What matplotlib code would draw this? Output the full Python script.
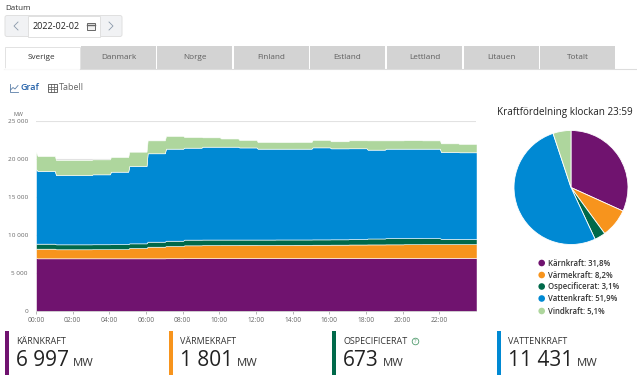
import matplotlib
matplotlib.use("Agg")
import matplotlib.pyplot as plt
import numpy as np
from matplotlib.patches import Circle, FancyBboxPatch, Rectangle

plt.rcParams["font.family"] = ["Open Sans", "DejaVu Sans"]

WIDTH, HEIGHT = 637, 375

# one value for 00:00 itself, then one value per hour
START_VALUES = [6960, 1240, 660, 9820, 2280]
NUCLEAR = [6930, 6930, 6930, 6930, 6930, 6930, 6930, 6940, 6950, 6950, 6950, 6960,
           6960, 6960, 6960, 6960, 6970, 6970, 6970, 6980, 6980, 6990, 6990, 6997]
HEAT = [1270, 1190, 1190, 1200, 1210, 1360, 1530, 1610, 1690, 1720, 1730, 1730,
        1720, 1730, 1740, 1760, 1760, 1780, 1790, 1790, 1810, 1810, 1810, 1801]
OTHER = [660, 650, 650, 650, 650, 610, 660, 700, 750, 730, 720, 710,
         720, 720, 710, 700, 700, 710, 780, 820, 800, 780, 700, 673]
HYDRO = [9560, 9120, 9110, 9200, 9540, 10180, 11630, 12110, 12100, 12220, 12220, 12120,
         11960, 11950, 11950, 12110, 11970, 11950, 11690, 11770, 11770, 11780, 11420, 11410]
WIND = [1970, 1980, 1990, 1970, 1930, 1880, 1700, 1670, 1400, 1230, 1080, 980,
        880, 870, 880, 970, 930, 1050, 1220, 1090, 1110, 1090, 1140, 1100]

SERIES_NAMES = ["Kärnkraft", "Värmekraft", "Ospecificerat", "Vattenkraft", "Vindkraft"]
COLORS = ["#70136f", "#f7941d", "#00694a", "#0089d3", "#aed69d"]
PIE_SHARES = [31.8, 8.2, 3.1, 51.9, 5.1]
PIE_LABELS = ["31,8%", "8,2%", "3,1%", "51,9%", "5,1%"]

Y_TICKS = [0, 5000, 10000, 15000, 20000, 25000]
Y_LABELS = ["0", "5 000", "10 000", "15 000", "20 000", "25 000"]
X_TICKS = list(range(0, 24, 2))
X_LABELS = [f"{h:02d}:00" for h in X_TICKS]

TABS = ["Sverige", "Danmark", "Norge", "Finland", "Estland", "Lettland", "Litauen", "Totalt"]
TAB_LEFTS = [4, 81, 157, 234, 310, 387, 464, 540]

CARD_TITLES = ["KÄRNKRAFT", "VÄRMEKRAFT", "OSPECIFICERAT", "VATTENKRAFT"]
CARD_VALUES = ["6 997", "1 801", "673", "11 431"]
CARD_LEFTS = [5, 169, 332, 497]
CARD_UNIT_X = [72.5, 236.5, 383, 576.5]


def px_axes(fig, left, top, right, bottom, **kwargs):
    return fig.add_axes(
        [left / WIDTH, 1 - bottom / HEIGHT, (right - left) / WIDTH, (bottom - top) / HEIGHT],
        **kwargs,
    )


def step_series(start, values):
    # hourly values with a short ramp just after each full hour
    hours = np.arange(len(values))
    xs = np.concatenate([[0], np.column_stack([hours + 0.09, hours + 1.03]).ravel()])
    ys = np.concatenate([[start], np.repeat(values, 2)])
    return xs, ys


def draw_area(fig):
    ax = px_axes(fig, 36, 121, 476, 311)
    stacks = []
    for start, values in zip(START_VALUES, [NUCLEAR, HEAT, OTHER, HYDRO, WIND]):
        xs, ys = step_series(start, values)
        stacks.append(ys)
    ax.stackplot(xs, stacks, colors=COLORS, edgecolor="#ffffff", linewidth=0.4, zorder=2)
    ax.set_xlim(0, 24)
    ax.set_ylim(0, 25000)
    ax.set_yticks(Y_TICKS, Y_LABELS)
    ax.set_xticks(X_TICKS, X_LABELS)
    ax.tick_params(axis="y", length=0, labelsize=4.6, labelcolor="#666666", pad=5.8)
    ax.tick_params(axis="x", length=2, width=0.5, color="#999999", labelsize=4.8,
                   labelcolor="#666666", pad=2)
    ax.grid(axis="y", color="#e2e2e2", linewidth=0.8, zorder=0)
    ax.set_axisbelow(True)
    for name, spine in ax.spines.items():
        spine.set_visible(name == "bottom")
    ax.spines["bottom"].set_color("#c8c8c8")
    ax.spines["bottom"].set_linewidth(0.5)
    ax.patch.set_alpha(0)


def draw_pie(fig):
    ax = px_axes(fig, 514, 130.5, 628, 244.5)
    ax.pie(PIE_SHARES, colors=COLORS, startangle=90, counterclock=False, radius=1,
           wedgeprops={"edgecolor": "#ffffff", "linewidth": 0.6})
    ax.set_xlim(-1.0, 1.0)
    ax.set_ylim(-1.0, 1.0)


def draw_ui(fig):
    ui = px_axes(fig, 0, 0, WIDTH, HEIGHT, zorder=5)
    ui.set_xlim(0, WIDTH)
    ui.set_ylim(HEIGHT, 0)
    ui.axis("off")
    ui.patch.set_alpha(0)

    # date picker
    ui.text(5, 8, "Datum", fontsize=5.8, color="#333333", va="center")
    ui.add_patch(FancyBboxPatch((5, 15.5), 117, 21, boxstyle="round,pad=0,rounding_size=2",
                                fc="#f1f2f4", ec="#e0e0e0", lw=0.7))
    ui.add_patch(Rectangle((27.5, 15.5), 72, 21, fc="#ffffff", ec="#e0e0e0", lw=0.7))
    ui.plot([18, 14, 18], [22, 26, 30], color="#8a98aa", lw=0.6)
    ui.plot([109, 113, 109], [22, 26, 30], color="#8a98aa", lw=0.6)
    ui.text(32.5, 26.3, "2022-02-02", fontsize=6.5, color="#222222", va="center")
    ui.add_patch(Rectangle((87, 22.5), 7.5, 7.5, fc="#f1f1f1", ec="#666666", lw=0.7))
    ui.plot([87, 94.5], [24.5, 24.5], color="#666666", lw=1)

    # tabs
    ui.plot([4, WIDTH], [68.5, 68.5], color="#dddddd", lw=0.8)
    for i, (name, left) in enumerate(zip(TABS, TAB_LEFTS)):
        if i == 0:
            ui.add_patch(Rectangle((left + 0.5, 46.5), 75, 22, fc="#ffffff", ec="#e2e2e2", lw=0.7))
            ui.plot([left + 1, left + 75], [68.6, 68.6], color="#ffffff", lw=1.2)
            color = "#333333"
        else:
            ui.add_patch(Rectangle((left, 46), 75, 22.5, fc="#d3d3d3", ec="none"))
            color = "#5f5f5f"
        ui.text(left + 37.5, 57.5, name, fontsize=5.9, color=color, ha="center", va="center")

    # view switch
    ui.plot([9.5, 9.5, 18], [84, 91.5, 91.5], color="#5b7fa8", lw=0.6)
    ui.plot([10.5, 13, 15, 18], [90, 87.5, 89, 85.5], color="#5b7fa8", lw=0.6)
    ui.text(20.5, 87.7, "Graf", fontsize=6.5, color="#1f5ea8", va="center", fontweight="semibold")
    ui.add_patch(Rectangle((48, 84), 9, 7.5, fc="#ffffff", ec="#555555", lw=0.6))
    for y in (86.5, 89):
        ui.plot([48, 57], [y, y], color="#555555", lw=0.5)
    for x in (51, 54):
        ui.plot([x, x], [84, 91.5], color="#555555", lw=0.5)
    ui.text(59, 87.7, "Tabell", fontsize=6.5, color="#666666", va="center")

    ui.text(13, 114, "MW", fontsize=3.9, color="#666666", va="center")

    # pie title and legend
    ui.text(564.5, 112.5, "Kraftfördelning klockan 23:59", fontsize=7.1, color="#222222",
            ha="center", va="center")
    for y, name, share, color in zip([263, 275, 286.5, 298.5, 311], SERIES_NAMES, PIE_LABELS, COLORS):
        ui.add_patch(Circle((541.7, y), 3.3, fc=color, ec="none"))
        ui.text(547.5, y + 0.3, f"{name}: {share}", fontsize=5.6, color="#333333", va="center",
                fontweight="semibold")

    # value cards
    for i, left in enumerate(CARD_LEFTS):
        ui.add_patch(Rectangle((left, 331), 3.5, 44, fc=COLORS[i], ec="none"))
        ui.text(left + 11, 341.8, CARD_TITLES[i], fontsize=6.5, color="#333333", va="center")
        ui.text(left + 11, 360.5, CARD_VALUES[i], fontsize=15, color="#222222", va="center")
        ui.text(CARD_UNIT_X[i], 363.5, "MW", fontsize=8.2, color="#333333", va="center")
    ui.add_patch(Circle((415.5, 341.5), 3.3, fc="#ffffff", ec="#4f9a6d", lw=0.6))
    ui.text(415.5, 341.7, "?", fontsize=4.2, color="#4f9a6d", ha="center", va="center")


def main():
    fig = plt.figure(figsize=(WIDTH / 100, HEIGHT / 100), dpi=100, facecolor="#ffffff")
    draw_area(fig)
    draw_pie(fig)
    draw_ui(fig)
    fig.savefig("out.png", dpi=100)
    plt.close(fig)


if __name__ == "__main__":
    main()
